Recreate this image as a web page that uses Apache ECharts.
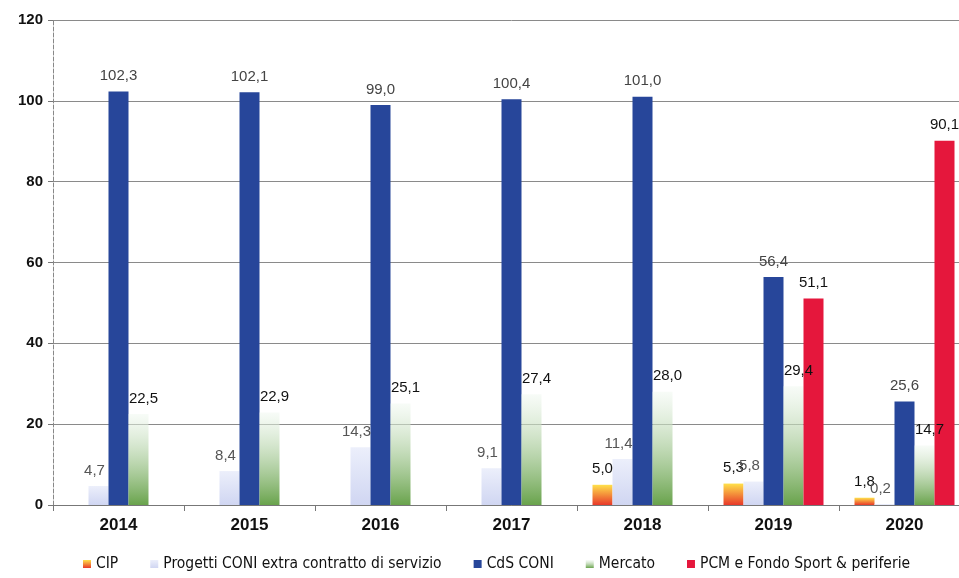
<!DOCTYPE html>
<html><head><meta charset="utf-8">
<script src="https://cdn.jsdelivr.net/npm/echarts@6/dist/echarts.min.js"></script>
<style>html,body{margin:0;padding:0;background:#fff;overflow:hidden}#c{width:970px;height:578px}</style>
</head><body><div id="c"></div>
<script>
const years = ['2014','2015','2016','2017','2018','2019','2020'];
const seriesNames = ['CIP','Progetti CONI extra contratto di servizio','CdS CONI','Mercato','PCM e Fondo Sport & periferie'];
const cip      = [null, null, null, null, 5.0, 5.3, 1.8];
const progetti = [4.7, 8.4, 14.3, 9.1, 11.4, 5.8, 0.2];
const cds      = [102.3, 102.1, 99.0, 100.4, 101.0, 56.4, 25.6];
const mercato  = [22.5, 22.9, 25.1, 27.4, 28.0, 29.4, 14.7];
const pcm      = [null, null, null, null, null, 51.1, 90.1];
const yTicks = [0, 20, 40, 60, 80, 100, 120];

const FONT = "'Liberation Sans', Arial, sans-serif";
const NARROW = "'Liberation Sans Narrow', 'DejaVu Sans Condensed', sans-serif";
const fmt = p => (p.value == null ? '' : p.value.toFixed(1).replace('.', ','));
const grad = (top, bottom) => new echarts.graphic.LinearGradient(0, 0, 0, 1, [{offset: 0, color: top}, {offset: 1, color: bottom}]);
const lbl = (color, weight, dx) => ({show: true, position: 'top', distance: 8, offset: [dx || 0, 0], formatter: fmt,
  color: color, fontSize: 15, fontWeight: weight, fontFamily: FONT});

const chart = echarts.init(document.getElementById('c'));
chart.setOption({
  animation: false,
  backgroundColor: '#fff',
  grid: {left: 53, right: 0, top: 20, bottom: 73, containLabel: false},
  legend: {
    left: 78, bottom: 1, itemWidth: 8, itemHeight: 8, itemGap: 32, icon: 'rect',
    textStyle: {fontSize: 15.5, color: '#111', fontFamily: NARROW},
    data: seriesNames
  },
  xAxis: {
    type: 'category', data: years,
    axisLine: {lineStyle: {color: '#777', width: 1}},
    axisTick: {show: true, length: 6, lineStyle: {color: '#777'}},
    axisLabel: {color: '#111', fontSize: 17, fontWeight: 'bold', margin: 12, fontFamily: FONT}
  },
  yAxis: {
    type: 'value', min: 0, max: 120, interval: 20,
    axisLine: {show: true, lineStyle: {color: '#888', width: 1, type: 'dashed'}},
    axisTick: {show: true, length: 5, lineStyle: {color: '#777'}},
    axisLabel: {color: '#111', fontSize: 15, fontWeight: 'bold', margin: 10, fontFamily: FONT,
      formatter: v => yTicks.includes(v) ? String(v) : ''},
    splitLine: {lineStyle: {color: '#8a8a8a', width: 1}}
  },
  series: [
    {name: seriesNames[0], type: 'bar', data: cip, barWidth: 20, barGap: '0%',
      itemStyle: {color: grad('#ffe14a', '#e8392a')}, label: lbl('#111', 'normal')},
    {name: seriesNames[1], type: 'bar', data: progetti, barWidth: 20, barGap: '0%',
      itemStyle: {color: grad('#eceffb', '#d0d6f2')}, label: lbl('#555', 'normal', -4)},
    {name: seriesNames[2], type: 'bar', data: cds, barWidth: 20, barGap: '0%',
      itemStyle: {color: '#27469a'}, label: lbl('#444', 'normal')},
    {name: seriesNames[3], type: 'bar', data: mercato, barWidth: 20, barGap: '0%',
      itemStyle: {color: grad('rgba(240,248,240,0.5)', '#69a34c')}, label: lbl('#111', 'normal', 5)},
    {name: seriesNames[4], type: 'bar', data: pcm, barWidth: 20, barGap: '0%',
      itemStyle: {color: '#e5173c'}, label: lbl('#111', 'normal')}
  ]
});
</script></body></html>
